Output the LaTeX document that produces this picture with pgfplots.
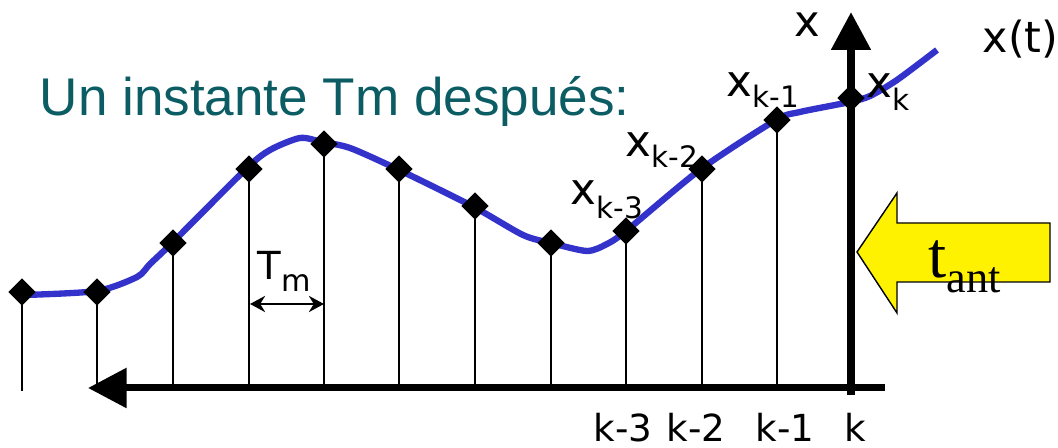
\documentclass[border=0pt]{standalone}
\usepackage{pgfplots}
\pgfplotsset{compat=1.18}
\usepackage{fontspec}
\setmainfont{Liberation Sans}
\newfontfamily\labelfont{DejaVu Sans}
\newfontfamily\timesfont{Liberation Serif}
\usetikzlibrary{arrows.meta}
\definecolor{curveblue}{RGB}{51,51,204}
\definecolor{titleteal}{RGB}{12,92,100}
\newcommand\fs[1]{\fontsize{#1}{#1}\selectfont}
\newcommand\xsub[2]{\labelfont\fs{12.4pt}x\raisebox{-#2}{\fs{8.4pt}#1}}

\begin{document}
\begin{tikzpicture}
\begin{axis}[
  x=0.1mm, y=0.1mm,
  xmin=0, xmax=1058, ymin=-60, ymax=388,
  hide axis, clip=false,
]
\coordinate (bl) at (axis cs:0,-60);
\coordinate (tr) at (axis cs:1058,388);

% sampling stems
\addplot[ycomb, line width=0.6pt, black] coordinates {
  (22,96) (97,96) (173,145) (249,219) (324,244) (399,219)
  (475,182) (551,145) (626,157) (702,219) (777,268)
};
% first stem reaches a bit below the time axis
\addplot[line width=0.6pt, black] coordinates {(22,0) (22,-3)};

% continuous signal x(t)
\addplot[curveblue, line width=1.8pt, smooth, tension=0.45] coordinates {
  (25,93) (97,97) (137,111) (150,124) (172,145) (246,219) (270,238)
  (300,250) (322,246) (350,240) (397,219) (472,182) (523,153)
  (551,145) (587,137) (607,144) (626,157) (701,219) (776,268)
  (800,276) (850,286) (870,292) (897,308) (937,338)
};

% time axis (pointing to the past)
\addplot[line width=2pt, -{Triangle[length=11pt,width=11pt]}] coordinates {(885,0) (88,0)};

% yellow arrow marking t_ant
\addplot[fill=yellow, draw=black, line width=0.4pt] coordinates {
  (857,136) (897,195) (897,165) (1050,165) (1050,106) (897,106) (897,75)
} -- cycle;

% vertical axis at sample k
\addplot[line width=2.3pt, -{Triangle[length=10.8pt,width=10.8pt]}] coordinates {(851,-7) (851,376)};

% samples
\addplot[only marks, mark=diamond*, mark size=3.6pt, mark options={xscale=1.33}, black] coordinates {
  (22,96) (97,96) (173,145) (249,219) (324,244) (399,219)
  (475,182) (551,145) (626,157) (702,219) (777,268) (851,290)
};

% sampling period
\addplot[line width=0.6pt, {Stealth[length=4.3pt,width=4.6pt]}-{Stealth[length=4.3pt,width=4.6pt]}]
  coordinates {(250,84) (324,84)};
\node[anchor=base west, inner sep=0] at (axis cs:257,108)
  {\labelfont\fs{11pt}T\raisebox{-3.3pt}{\fs{8.6pt}m}};

% texts
\node[anchor=base west, inner sep=0, text=titleteal] at (axis cs:39,272)
  {\fs{15.1pt}Un instante Tm después:};
\node[anchor=base west, inner sep=0] at (axis cs:794,351) {\labelfont\fs{12.3pt}x};
\node[anchor=base west, inner sep=0] at (axis cs:982,335) {\labelfont\fs{12.2pt}x(t)};
\node[anchor=base west, inner sep=0] at (axis cs:570,183) {\xsub{k-3}{3.8pt}};
\node[anchor=base west, inner sep=0] at (axis cs:625,231) {\xsub{k-2}{3pt}};
\node[anchor=base west, inner sep=0] at (axis cs:726,291) {\xsub{k-1}{2.9pt}};
\node[anchor=base west, inner sep=0] at (axis cs:866,290) {\xsub{k}{3.6pt}};
\node[anchor=base west, inner sep=0] at (axis cs:928,110)
  {\timesfont\fs{18.6pt}t\raisebox{-4pt}{\fs{12.6pt}ant}};

\node[anchor=base, inner sep=0] at (axis cs:623,-54) {\labelfont\fs{10.6pt}k-3};
\node[anchor=base, inner sep=0] at (axis cs:696,-54) {\labelfont\fs{10.6pt}k-2};
\node[anchor=base, inner sep=0] at (axis cs:785,-54) {\labelfont\fs{10.6pt}k-1};
\node[anchor=base, inner sep=0] at (axis cs:855,-54) {\labelfont\fs{10.6pt}k};
\end{axis}
\pgfresetboundingbox
\useasboundingbox (bl) rectangle (tr);
\end{tikzpicture}
\end{document}
